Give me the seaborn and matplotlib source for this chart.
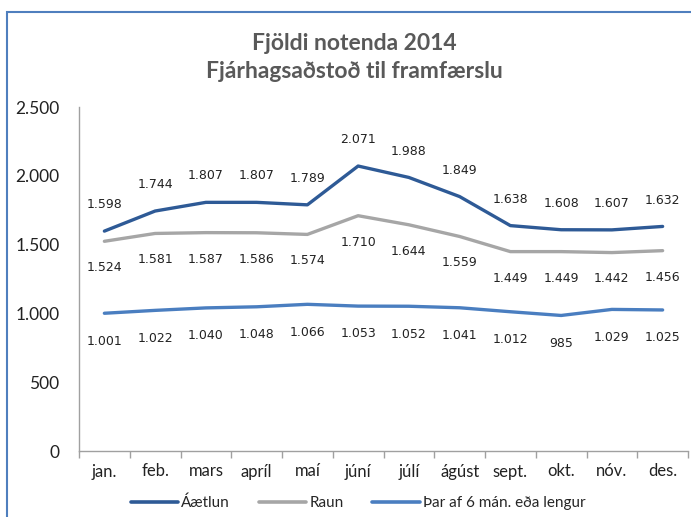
import matplotlib
matplotlib.use("Agg")
import matplotlib.pyplot as plt
import matplotlib.patches as mpatches
from matplotlib.lines import Line2D
from matplotlib.ticker import FuncFormatter, FixedLocator
import seaborn as sns
import pandas as pd

months = ["jan.", "feb.", "mars", "apríl", "maí", "júní", "júlí", "ágúst", "sept.", "okt.", "nóv.", "des."]
aaetlun = [1598, 1744, 1807, 1807, 1789, 2071, 1988, 1849, 1638, 1608, 1607, 1632]
raun = [1524, 1581, 1587, 1586, 1574, 1710, 1644, 1559, 1449, 1449, 1442, 1456]
thar_af = [1001, 1022, 1040, 1048, 1066, 1053, 1052, 1041, 1012, 985, 1029, 1025]
series_names = ["Áætlun", "Raun", "Þar af 6 mán. eða lengur"]
colors = ["#2E5A96", "#A6A6A6", "#4A7EC0"]

df = pd.DataFrame({
    "month": months * 3,
    "value": aaetlun + raun + thar_af,
    "series": [series_names[0]] * 12 + [series_names[1]] * 12 + [series_names[2]] * 12,
})

sns.set_theme(style="white")
plt.rcParams["font.family"] = ["Lato", "DejaVu Sans"]

fig = plt.figure(figsize=(6.91, 5.17), dpi=100)
ax = fig.add_axes([79/691, 1-451/517, (688-79)/691, (451-107)/517])

sns.lineplot(data=df, x="month", y="value", hue="series", palette=colors,
             hue_order=series_names, sort=False, linewidth=2.4, ax=ax, legend=False)

ax.set_xlim(-0.5, 11.5)
ax.set_ylim(0, 2500)
ax.yaxis.set_major_locator(FixedLocator([0, 500, 1000, 1500, 2000, 2500]))
fmt = lambda v: f"{int(v):,}".replace(",", ".")
ax.yaxis.set_major_formatter(FuncFormatter(lambda v, p: fmt(v)))
ax.set_xlabel("")
ax.set_ylabel("")
ax.set_xticks(range(12))
ax.set_xticklabels(months)
ax.set_xticks([i - 0.5 for i in range(13)], minor=True)
ax.tick_params(axis="x", which="major", length=0, pad=9, labelsize=12, colors="#222222")
ax.tick_params(axis="x", which="minor", length=5, width=1, color="#A0A0A0", direction="out", bottom=True)
ax.tick_params(axis="y", length=0, pad=14, labelsize=12.5, colors="#222222")
for s in ["top", "right"]:
    ax.spines[s].set_visible(False)
for s in ["left", "bottom"]:
    ax.spines[s].set_color("#A0A0A0")
    ax.spines[s].set_linewidth(1)

offsets = [19, -19, -20]
for vals, off in zip([aaetlun, raun, thar_af], offsets):
    for i, v in enumerate(vals):
        ax.annotate(fmt(v), (i, v), xytext=(0, off), textcoords="offset points",
                    ha="center", va="center", fontsize=9, family="DejaVu Sans", color="#222222")

fig.text(354/691, 1-44/517, "Fjöldi notenda 2014", ha="center", va="center",
         fontsize=16.5, fontweight="bold", color="#595959")
fig.text(354/691, 1-72/517, "Fjárhagsaðstoð til framfærslu", ha="center", va="center",
         fontsize=16.5, fontweight="bold", color="#595959")

handles = [Line2D([0], [0], color=c, lw=2.6) for c in colors]
fig.legend(handles, series_names, loc="center", bbox_to_anchor=(358/691, 1-503/517), ncol=3,
           frameon=False, fontsize=11, handlelength=3.1, handletextpad=0.2, columnspacing=1.9)

border = mpatches.Rectangle((7/691, -0.1), 1.2, 1 - 12/517 + 0.1, transform=fig.transFigure,
                            fill=False, edgecolor="#4F7FBE", linewidth=1.5, clip_on=False)
fig.patches.append(border)

fig.savefig("out.png", dpi=100)
